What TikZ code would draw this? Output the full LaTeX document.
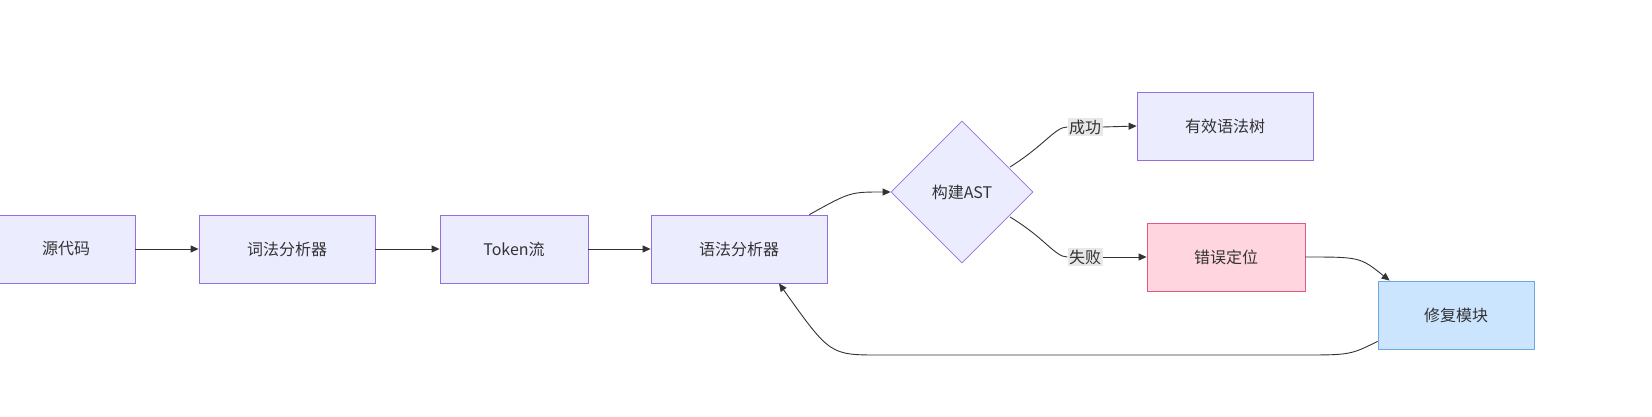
\documentclass[tikz,border=0pt]{standalone}
\usepackage{fontspec}
\setmainfont{Noto Sans CJK SC}
\usetikzlibrary{shapes.geometric,arrows.meta,positioning}
\definecolor{boxfill}{HTML}{ECECFF}
\definecolor{boxline}{HTML}{9370DB}
\definecolor{errfill}{HTML}{FFD6E0}
\definecolor{errline}{HTML}{E05A80}
\definecolor{fixfill}{HTML}{CCE5FF}
\definecolor{fixline}{HTML}{6FA8DC}
\definecolor{lblfill}{HTML}{E8E8E8}
\definecolor{edgecol}{HTML}{333333}
\begin{document}
\begin{tikzpicture}[x=1pt,y=-1pt,
  every node/.style={font=\fontsize{16}{19}\selectfont, text=edgecol},
  box/.style={draw=boxline,fill=boxfill,line width=0.8pt,minimum height=68pt,minimum width=176pt,inner sep=0pt},
  decision/.style={draw=boxline,fill=boxfill,line width=0.8pt,diamond,minimum width=142pt,minimum height=142pt,inner sep=0pt},
  label/.style={fill=lblfill,inner sep=1.5pt},
  link/.style={draw=edgecol,line width=0.9pt,-{Triangle[length=8pt,width=7pt]}}]
\useasboundingbox (0,0) rectangle (1652,416);
\node[box,minimum width=138pt] (src) at (66,249) {源代码};
\node[box] (lexer) at (287,249) {词法分析器};
\node[box,minimum width=148pt] (tokens) at (514,249) {Token流};
\node[box] (parser) at (739,249) {语法分析器};
\node[decision] (ast) at (962,192) {构建AST};
\node[box] (tree) at (1225,126) {有效语法树};
\node[box,minimum width=158pt,draw=errline,fill=errfill] (locate) at (1226,257) {错误定位};
\node[box,minimum width=156pt,draw=fixline,fill=fixfill] (repair) at (1456,315) {修复模块};
\node[label] (ok) at (1085,127) {成功};
\node[label] (fail) at (1085,257) {失败};

\draw[link] (src) -- (lexer);
\draw[link] (lexer) -- (tokens);
\draw[link] (tokens) -- (parser);
\draw[link] ([xshift=-18pt]parser.north east) .. controls (850,192) .. (ast.west);
\draw[draw=edgecol,line width=0.9pt] (1010,167) .. controls (1045,145) and (1055,127) .. (ok.west);
\draw[link] (ok.east) -- (tree.west);
\draw[draw=edgecol,line width=0.9pt] (1010,217) .. controls (1045,238) and (1055,257) .. (fail.west);
\draw[link] (fail.east) -- (locate.west);
\draw[link] (locate.east) .. controls (1360,257) .. ([xshift=12pt]repair.north west);
\draw[link] ([yshift=8pt]repair.south west) .. controls (1350,355) .. (1300,355) -- (880,355) .. controls (830,355) .. ([xshift=40pt]parser.south);
\end{tikzpicture}
\end{document}
